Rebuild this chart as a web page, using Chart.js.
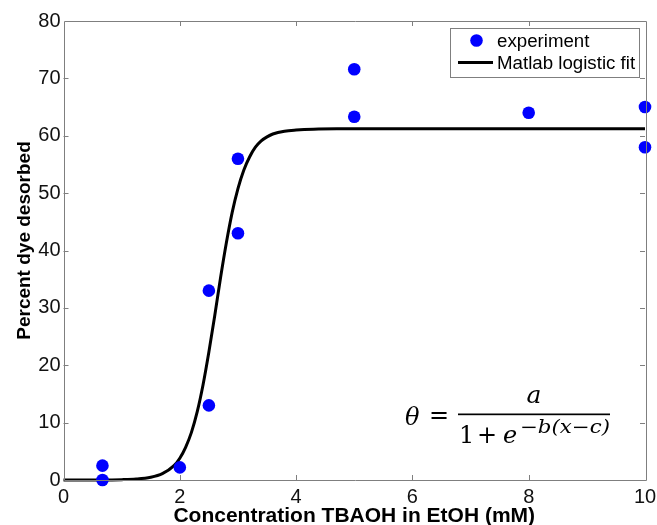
<!DOCTYPE html>
<html>
<head>
<meta charset="utf-8">
<script src="https://cdn.jsdelivr.net/npm/chart.js@4.4.1/dist/chart.umd.min.js"></script>
<style>
  html, body { margin: 0; padding: 0; background: #ffffff; }
  #wrap { width: 657px; height: 525px; }
</style>
</head>
<body>
<div id="wrap"><canvas id="c" width="657" height="525"></canvas></div>
<script>
// ---- data ----
const expLabel = 'experiment';
const fitLabel = 'Matlab logistic fit';
const expX = [0.67, 0.67, 2.0, 2.5, 2.5, 3.0, 3.0, 5.0, 5.0, 8.0, 10.0, 10.0];
const expY = [2.5, 0.0, 2.2, 33.0, 13.0, 56.0, 43.0, 71.6, 63.3, 64.0, 65.0, 58.0];
const fitX = [0, 0.5, 1.0, 1.25, 1.5, 1.7, 1.9, 2.0, 2.1, 2.2, 2.3, 2.4, 2.5, 2.6, 2.7, 2.8, 2.9, 3.0, 3.1, 3.2, 3.3, 3.4, 3.5, 3.6, 3.8, 4.0, 4.3, 4.7, 5.5, 10.0];
const fitY = [0, 0.01, 0.06, 0.16, 0.47, 1.1, 2.5, 3.8, 5.7, 8.3, 11.9, 16.6, 22.3, 28.6, 35.2, 41.3, 46.6, 50.8, 54.0, 56.3, 58.0, 59.1, 59.8, 60.3, 60.8, 61.0, 61.15, 61.2, 61.2, 61.2];
const xTicks = [0, 2, 4, 6, 8, 10];
const yTicks = [0, 10, 20, 30, 40, 50, 60, 70, 80];
const xTitle = 'Concentration TBAOH in EtOH (mM)';
const yTitle = 'Percent dye desorbed';

const SANS = '"Liberation Sans", Arial, Helvetica, sans-serif';
const SERIF = '"DejaVu Serif", "Liberation Serif", serif';
const AXIS_GRAY = '#7f7f7f';

function fitText(ctx, text, x, y, width) {
  const w = ctx.measureText(text).width;
  ctx.save();
  ctx.translate(x, y);
  ctx.scale(width / w, 1);
  ctx.fillText(text, 0, 0);
  ctx.restore();
}

const framePlugin = {
  id: 'frame',
  afterDraw(chart) {
    const ctx = chart.ctx;
    const a = chart.chartArea;
    const xs = chart.scales.x, ys = chart.scales.y;
    ctx.save();
    ctx.strokeStyle = AXIS_GRAY;
    ctx.lineWidth = 1;
    ctx.beginPath();
    ctx.rect(Math.round(a.left) + 0.5, Math.round(a.top) + 0.5, Math.round(a.right - a.left), Math.round(a.bottom - a.top));
    ctx.stroke();
    const tl = 5;
    ctx.beginPath();
    xs.ticks.forEach(t => {
      if (t.value <= xs.min || t.value >= xs.max) return;
      const px = Math.round(xs.getPixelForValue(t.value)) + 0.5;
      ctx.moveTo(px, a.bottom); ctx.lineTo(px, a.bottom - tl);
      ctx.moveTo(px, a.top); ctx.lineTo(px, a.top + tl);
    });
    ys.ticks.forEach(t => {
      if (t.value <= ys.min || t.value >= ys.max) return;
      const py = Math.round(ys.getPixelForValue(t.value)) + 0.5;
      ctx.moveTo(a.left, py); ctx.lineTo(a.left + tl, py);
      ctx.moveTo(a.right, py); ctx.lineTo(a.right - tl, py);
    });
    ctx.stroke();

    // y axis title
    ctx.fillStyle = '#000';
    ctx.font = 'bold 19px ' + SANS;
    ctx.textAlign = 'center';
    ctx.textBaseline = 'alphabetic';
    ctx.translate(30, 240.5);
    ctx.rotate(-Math.PI / 2);
    ctx.fillText(yTitle, 0, 0);
    ctx.restore();

    // legend box
    ctx.save();
    const L = 450.5, T = 28.5, R = 639.5, B = 77.5;
    ctx.fillStyle = '#fff';
    ctx.fillRect(L, T, R - L, B - T);
    ctx.strokeStyle = AXIS_GRAY;
    ctx.lineWidth = 1;
    ctx.strokeRect(L, T, R - L, B - T);
    const ds0 = chart.data.datasets[0], ds1 = chart.data.datasets[1];
    ctx.fillStyle = ds0.backgroundColor;
    ctx.beginPath();
    ctx.arc(476.5, 40.5, 6.3, 0, Math.PI * 2);
    ctx.fill();
    ctx.strokeStyle = ds1.borderColor;
    ctx.lineWidth = 3;
    ctx.beginPath();
    ctx.moveTo(458, 62.5); ctx.lineTo(493, 62.5);
    ctx.stroke();
    ctx.fillStyle = '#000';
    ctx.font = '18.7px ' + SANS;
    ctx.textAlign = 'left';
    ctx.textBaseline = 'alphabetic';
    ctx.fillText(ds0.label, 497, 47);
    ctx.fillText(ds1.label, 497, 69);
    ctx.restore();

    // equation
    ctx.save();
    ctx.fillStyle = '#000';
    ctx.textBaseline = 'alphabetic';
    ctx.textAlign = 'left';
    ctx.font = 'italic 24px ' + SERIF;
    ctx.fillText('\u03B8', 405, 425);
    ctx.font = '24px ' + SERIF;
    ctx.fillText('=', 429, 423);
    ctx.fillRect(458, 413.5, 152, 1.7);
    ctx.font = 'italic 25px ' + SERIF;
    ctx.textAlign = 'center';
    ctx.fillText('a', 534, 403);
    ctx.textAlign = 'left';
    ctx.font = '24px ' + SERIF;
    ctx.fillText('1', 459, 443);
    ctx.fillText('+', 477, 443);
    ctx.font = 'italic 24px ' + SERIF;
    ctx.fillText('e', 503, 443);
    ctx.font = 'italic 18px ' + SERIF;
    fitText(ctx, '\u2212b(x\u2212c)', 520, 433, 90);
    ctx.restore();
  }
};

new Chart(document.getElementById('c'), {
  data: {
    datasets: [
      {
        type: 'scatter',
        label: expLabel,
        data: expX.map((x, i) => ({ x: x, y: expY[i] })),
        backgroundColor: '#0000ff',
        borderColor: '#0000ff',
        pointRadius: 6.3,
        pointBorderWidth: 0,
        pointHoverRadius: 6.3,
        clip: false,
        order: 0
      },
      {
        type: 'line',
        label: fitLabel,
        data: fitX.map((x, i) => ({ x: x, y: fitY[i] })),
        borderColor: '#000000',
        backgroundColor: '#000000',
        borderWidth: 3,
        pointRadius: 0,
        fill: false,
        cubicInterpolationMode: 'monotone',
        clip: 3,
        order: 1
      }
    ]
  },
  options: {
    responsive: false,
    animation: false,
    devicePixelRatio: 1,
    layout: { padding: { top: 21, right: 12, left: 0, bottom: 0 } },
    plugins: { legend: { display: false }, tooltip: { enabled: false }, title: { display: false } },
    scales: {
      x: {
        type: 'linear',
        min: 0, max: 10,
        afterBuildTicks: s => { s.ticks = xTicks.map(v => ({ value: v })); },
        afterFit: s => { s.height = 45; s.paddingRight = 0; s.paddingLeft = 0; },
        grid: { display: false, drawTicks: false },
        border: { display: false },
        ticks: { padding: 5, color: '#111', font: { family: SANS, size: 20 }, maxRotation: 0, autoSkip: false },
        title: { display: true, text: xTitle, color: '#000', font: { family: SANS, size: 21, weight: 'bold', lineHeight: 0.8 }, padding: 0 }
      },
      y: {
        type: 'linear',
        min: 0, max: 80,
        afterBuildTicks: s => { s.ticks = yTicks.map(v => ({ value: v })); },
        afterFit: s => { s.width = 63.5; s.paddingTop = 0; s.paddingBottom = 0; },
        grid: { display: false, drawTicks: false },
        border: { display: false },
        ticks: { padding: 3, color: '#111', font: { family: SANS, size: 20 }, autoSkip: false },
        title: { display: false }
      }
    }
  },
  plugins: [framePlugin]
});
</script>
</body>
</html>
